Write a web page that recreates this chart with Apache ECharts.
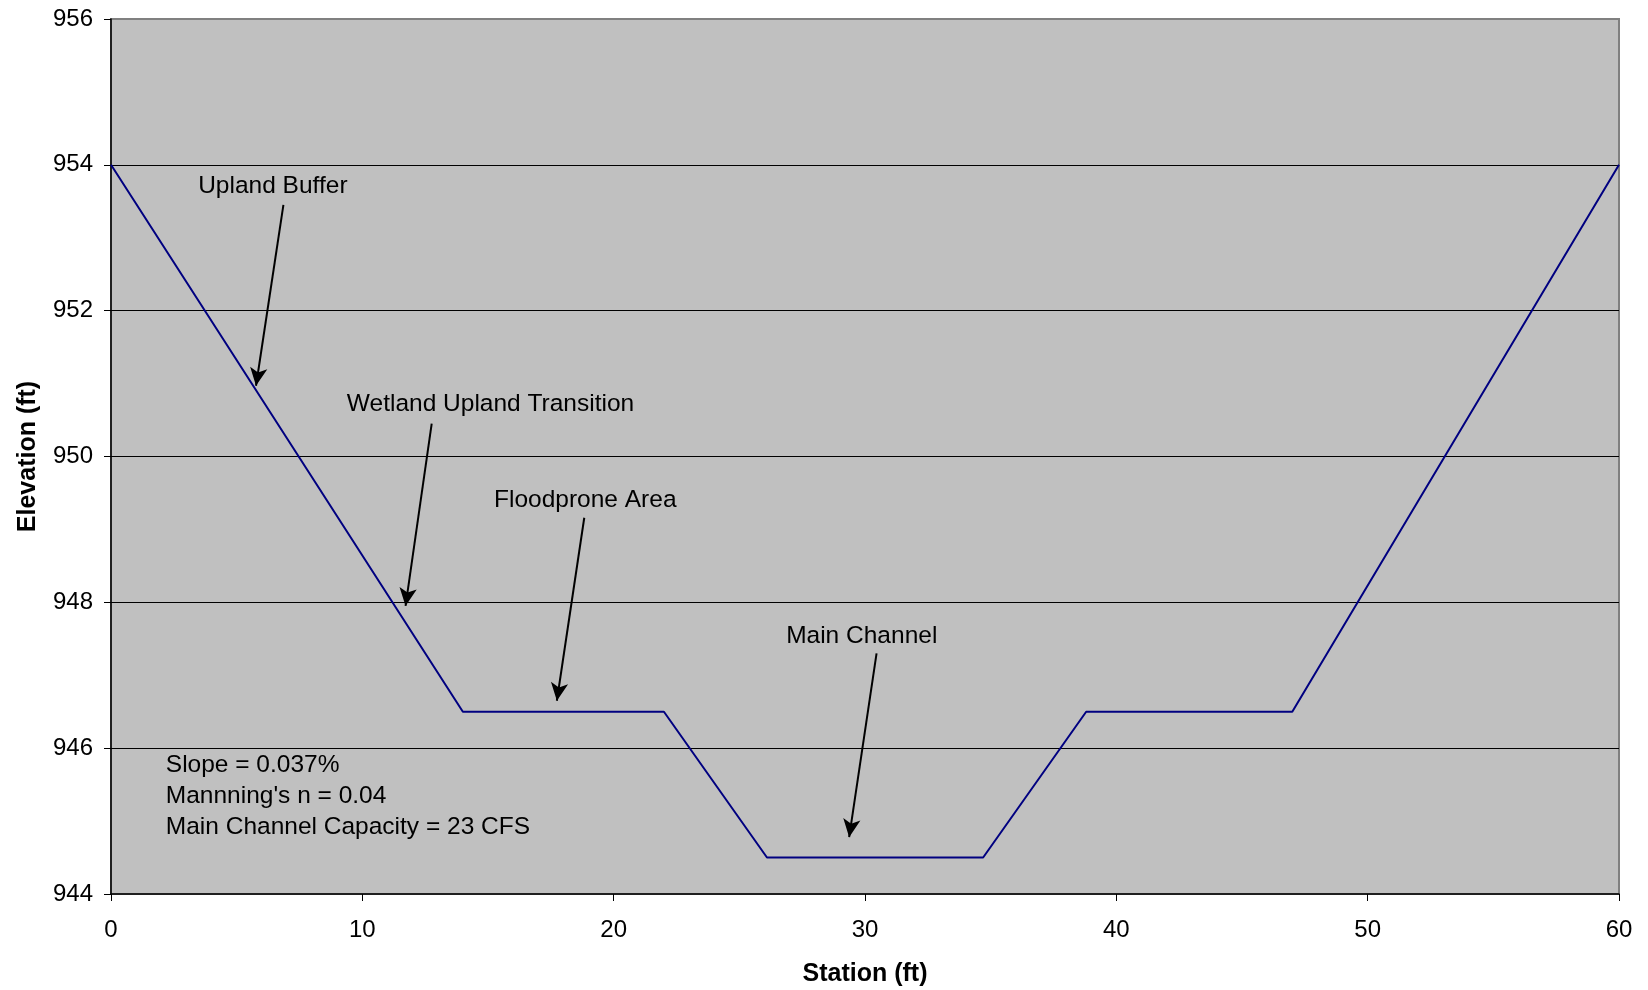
<!DOCTYPE html>
<html>
<head>
<meta charset="utf-8">
<script src="https://cdn.jsdelivr.net/npm/echarts@6/dist/echarts.min.js"></script>
<style>
html,body{margin:0;padding:0;background:#fff;}
#c{width:1648px;height:990px;}
</style>
</head>
<body>
<div id="c"></div>
<script>
// Cross-section profile
const station = [0, 14, 22, 26.1, 34.7, 38.8, 47, 60];
const elevation = [954, 946.5, 946.5, 944.5, 944.5, 946.5, 946.5, 954];

const xTicks = [0, 10, 20, 30, 40, 50, 60];
const yTicks = [944, 946, 948, 950, 952, 954, 956];

// Annotation labels: [text, x, y]
const labelNames = ['Upland Buffer', 'Wetland Upland Transition', 'Floodprone Area', 'Main Channel'];
const labelX = [6.44, 15.1, 18.87, 29.87];
const labelY = [953.71, 950.71, 949.40, 947.54];

// Arrows: start (x,y) -> end (x,y)
const arrowStartX = [6.86, 12.76, 18.83, 30.46];
const arrowStartY = [953.45, 950.45, 949.16, 947.30];
const arrowEndX = [5.77, 11.72, 17.74, 29.37];
const arrowEndY = [950.97, 947.95, 946.65, 944.78];

// Notes block
const notes = ['Slope = 0.037%', "Mannning's n = 0.04", 'Main Channel Capacity = 23 CFS'];
const notesX = [2.18, 2.18, 2.18];
const notesY = [945.76, 945.34, 944.92];

const FONT = '"Liberation Sans", Arial, sans-serif';

const chart = echarts.init(document.getElementById('c'), null, {renderer: 'canvas'});

const lineData = station.map((s, i) => [s, elevation[i]]);
const labelData = labelNames.map((n, i) => ({name: n, value: [labelX[i], labelY[i]]}));
const notesData = notes.map((n, i) => ({name: n, value: [notesX[i], notesY[i]]}));
const arrowLines = arrowStartX.map((x, i) => [
  {coord: [x, arrowStartY[i]]},
  {coord: [arrowEndX[i], arrowEndY[i]]}
]);

chart.setOption({
  animation: false,
  backgroundColor: '#ffffff',
  grid: {
    left: 111, top: 19, width: 1508, height: 875,
    show: true, backgroundColor: '#C0C0C0',
    borderColor: '#808080', borderWidth: 2,
    containLabel: false,
    outerBoundsMode: 'none'
  },
  xAxis: {
    type: 'value', min: 0, max: 60, interval: 10,
    name: 'Station (ft)', nameLocation: 'middle', nameGap: 68,
    nameTextStyle: {fontFamily: FONT, fontSize: 25, fontWeight: 'bold', color: '#000'},
    axisLine: {show: true, lineStyle: {color: '#000', width: 1.5}},
    axisTick: {show: true, length: 7, lineStyle: {color: '#000'}},
    axisLabel: {fontFamily: FONT, fontSize: 24, color: '#000', margin: 24,
      formatter: v => xTicks.includes(v) ? String(v) : ''},
    splitLine: {show: false}
  },
  yAxis: {
    type: 'value', min: 944, max: 956, interval: 2,
    name: 'Elevation (ft)', nameLocation: 'middle', nameGap: 70, nameRotate: 90,
    nameTextStyle: {fontFamily: FONT, fontSize: 25, fontWeight: 'bold', color: '#000'},
    axisLine: {show: true, lineStyle: {color: '#000', width: 1.5}},
    axisTick: {show: true, length: 7, lineStyle: {color: '#000'}},
    axisLabel: {fontFamily: FONT, fontSize: 24, color: '#000', margin: 18,
      formatter: v => yTicks.includes(v) ? String(v) : ''},
    splitLine: {show: true, showMaxLine: false, showMinLine: false, lineStyle: {color: '#000', width: 1}}
  },
  series: [
    {
      type: 'line', data: lineData, symbol: 'none',
      lineStyle: {color: '#000080', width: 2},
      z: 3
    },
    {
      type: 'scatter', data: labelData, symbolSize: 0,
      itemStyle: {opacity: 1},
      label: {show: true, position: 'inside', formatter: p => p.name,
        fontFamily: FONT, fontSize: 24.5, color: '#000', textBorderWidth: 0, opacity: 1},
      silent: true, z: 4,
      markLine: {
        silent: true, symbol: ['none', 'arrow'], symbolSize: [13, 18],
        label: {show: false},
        lineStyle: {color: '#000', width: 2, type: 'solid', opacity: 1},
        data: arrowLines
      }
    },
    {
      type: 'scatter', data: notesData, symbolSize: 0,
      itemStyle: {opacity: 1},
      label: {show: true, position: 'right', distance: 0, formatter: p => p.name,
        fontFamily: FONT, fontSize: 24.5, color: '#000', textBorderWidth: 0, opacity: 1},
      silent: true, z: 4
    }
  ]
});
</script>
</body>
</html>
